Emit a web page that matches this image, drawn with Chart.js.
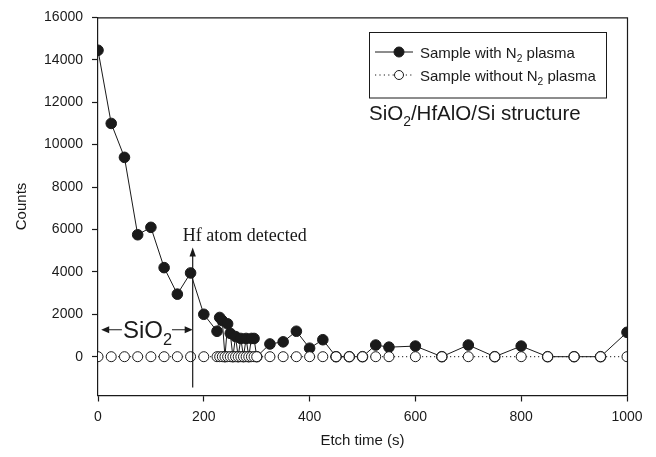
<!DOCTYPE html>
<html>
<head>
<meta charset="utf-8">
<script src="https://cdn.jsdelivr.net/npm/chart.js@4.4.1/dist/chart.umd.min.js"></script>
<style>
  html, body { margin: 0; padding: 0; background: #fff; }
  #wrap { width: 656px; height: 457px; }
</style>
</head>
<body>
<div id="wrap"><canvas id="myChart" width="656" height="457"></canvas></div>
<script>
// Etch time (s), shared by both samples
var etchTime = [0, 25, 50, 75, 100, 125, 150, 175, 200,
  225, 230, 235, 240, 245, 250, 255, 260, 265, 270, 275, 280, 285, 290, 295,
  300, 325, 350, 375, 400, 425, 450, 475, 500, 525, 550,
  600, 650, 700, 750, 800, 850, 900, 950, 1000];

// Counts, sample with N2 plasma
var withCounts = [14450, 11000, 9400, 5750, 6100, 4200, 2950, 3950, 2000,
  1200, 1850, 1700, 0, 1550, 1100, 0, 950, 0, 860, 0, 860, 0, 860, 860,
  0, 600, 700, 1200, 400, 800, 0, 0, 0, 550, 450,
  500, 0, 550, 0, 500, 0, 0, 0, 1150];

// Counts, sample without N2 plasma
var withoutCounts = [0, 0, 0, 0, 0, 0, 0, 0, 0,
  0, 0, 0, 0, 0, 0, 0, 0, 0, 0, 0, 0, 0, 0, 0,
  0, 0, 0, 0, 0, 0, 0, 0, 0, 0, 0,
  0, 0, 0, 0, 0, 0, 0, 0, 0];

// Tick labels
var xTicks = [0, 200, 400, 600, 800, 1000];
var yTicks = [0, 2000, 4000, 6000, 8000, 10000, 12000, 14000, 16000];

// Annotations (data coordinates)
var hfTime = 179;          // "Hf atom detected" arrow
var hfArrowFrom = -1450;
var hfArrowTo = 5150;
var sioLevel = 1270;       // SiO2 double arrow
var sioFrom = 6;

var ink = '#1a1a1a';
var sans = '"Liberation Sans", Arial, Helvetica, sans-serif';
var serif = '"Liberation Serif", "Times New Roman", serif';

function toPoints(xs, ys) {
  return xs.map(function (x, i) { return { x: x, y: ys[i] }; });
}

// Draw text where every second part is a subscript, returns end x
function drawSubText(ctx, parts, x, y, size, measureOnly) {
  for (var i = 0; i < parts.length; i++) {
    var sub = i % 2 === 1;
    ctx.font = (sub ? size * 0.68 : size) + 'px ' + sans;
    if (!measureOnly) ctx.fillText(parts[i], x, y + (sub ? size * 0.3 : 0));
    x += ctx.measureText(parts[i]).width;
  }
  return x;
}

function arrowHead(ctx, tipX, tipY, dx, dy, len, half) {
  ctx.beginPath();
  ctx.moveTo(tipX, tipY);
  ctx.lineTo(tipX - dx * len - dy * half, tipY - dy * len + dx * half);
  ctx.lineTo(tipX - dx * len + dy * half, tipY - dy * len - dx * half);
  ctx.closePath();
  ctx.fill();
}

// Frame, legend box and the text annotations
var extrasPlugin = {
  id: 'extras',
  afterDraw: function (chart) {
    var ctx = chart.ctx;
    var area = chart.chartArea;
    var xs = chart.scales.x;
    var ys = chart.scales.y;
    ctx.save();
    ctx.strokeStyle = ink;
    ctx.fillStyle = ink;

    // top and right border
    ctx.lineWidth = 1.2;
    ctx.beginPath();
    ctx.moveTo(area.left, area.top + 0.5);
    ctx.lineTo(area.right + 0.5, area.top + 0.5);
    ctx.lineTo(area.right + 0.5, area.bottom);
    ctx.stroke();

    // legend box
    ctx.lineWidth = 1;
    ctx.strokeRect(369.5, 32.5, 237, 65.5);
    var rows = [
      { y: 52, parts: ['Sample with N', '2', ' plasma'], filled: true },
      { y: 75, parts: ['Sample without N', '2', ' plasma'], filled: false }
    ];
    rows.forEach(function (r) {
      ctx.beginPath();
      ctx.setLineDash(r.filled ? [] : [1.2, 3.2]);
      ctx.moveTo(375, r.y);
      ctx.lineTo(413, r.y);
      ctx.stroke();
      ctx.setLineDash([]);
      ctx.beginPath();
      ctx.arc(399, r.y, r.filled ? 5 : 4.5, 0, Math.PI * 2);
      ctx.fillStyle = r.filled ? ink : '#fff';
      ctx.fill();
      ctx.stroke();
      ctx.fillStyle = ink;
      ctx.textBaseline = 'alphabetic';
      ctx.textAlign = 'left';
      drawSubText(ctx, r.parts, 420, r.y + 5.5, 15);
    });

    // structure label
    drawSubText(ctx, ['SiO', '2', '/HfAlO/Si structure'], 369, 119.5, 20.5);

    // Hf atom detected arrow
    var hx = xs.getPixelForValue(hfTime);
    var hTop = ys.getPixelForValue(hfArrowTo);
    ctx.lineWidth = 1.2;
    ctx.beginPath();
    ctx.moveTo(hx, ys.getPixelForValue(hfArrowFrom));
    ctx.lineTo(hx, hTop + 6);
    ctx.stroke();
    arrowHead(ctx, hx, hTop, 0, -1, 9, 3.2);
    ctx.font = '18px ' + serif;
    ctx.fillText('Hf atom detected', hx - 10, hTop - 6);

    // SiO2 double arrow
    var sy = ys.getPixelForValue(sioLevel);
    var sl = xs.getPixelForValue(sioFrom);
    var sr = hx;
    var size = 24;
    var tw = drawSubText(ctx, ['SiO', '2'], 0, 0, size, true);
    var mid = (sl + sr) / 2 + 0.5;
    var t0 = mid - tw / 2;
    ctx.lineWidth = 1;
    ctx.beginPath();
    ctx.moveTo(sl + 6, sy);
    ctx.lineTo(t0 - 1, sy);
    ctx.moveTo(t0 + tw, sy);
    ctx.lineTo(sr - 6, sy);
    ctx.stroke();
    arrowHead(ctx, sl, sy, -1, 0, 8, 3.5);
    arrowHead(ctx, sr, sy, 1, 0, 8, 3.5);
    drawSubText(ctx, ['SiO', '2'], t0, sy + 8.5, size);

    ctx.restore();
  }
};

// plain numbers, no thousands separator
function plainLabel(value) {
  return String(value);
}

var ctx = document.getElementById('myChart').getContext('2d');
var myChart = new Chart(ctx, {
  type: 'line',
  data: {
    datasets: [{
      label: 'Sample with N2 plasma',
      data: toPoints(etchTime, withCounts),
      borderColor: ink,
      borderWidth: 1,
      pointRadius: 5.3,
      pointBackgroundColor: ink,
      pointBorderColor: ink,
      pointBorderWidth: 1,
      tension: 0,
      order: 2
    }, {
      label: 'Sample without N2 plasma',
      data: toPoints(etchTime, withoutCounts),
      borderColor: ink,
      borderWidth: 1,
      borderDash: [1.2, 2.8],
      pointRadius: 5,
      pointBackgroundColor: '#fff',
      pointBorderColor: ink,
      pointBorderWidth: 1,
      tension: 0,
      order: 1
    }]
  },
  options: {
    responsive: false,
    animation: false,
    layout: { padding: { top: 14, right: 29, left: 0, bottom: 0 } },
    plugins: {
      legend: { display: false },
      tooltip: { enabled: false }
    },
    scales: {
      x: {
        type: 'linear',
        min: 0,
        max: 1000,
        afterFit: function (s) { s.height = 61.5; },
        afterBuildTicks: function (s) { s.ticks = xTicks.map(function (v) { return { value: v }; }); },
        grid: { drawOnChartArea: false, tickLength: 6, color: ink, tickWidth: 1.2 },
        border: { color: ink, width: 1.2 },
        ticks: { color: ink, padding: 7, maxRotation: 0, font: { family: sans, size: 14 }, callback: plainLabel },
        title: {
          display: true,
          text: 'Etch time (s)',
          color: ink,
          padding: { top: 0, bottom: 7.5 },
          font: { family: sans, size: 15 }
        }
      },
      y: {
        min: -1830,
        max: 16000,
        afterFit: function (s) { s.width = 98; },
        afterBuildTicks: function (s) { s.ticks = yTicks.map(function (v) { return { value: v }; }); },
        grid: { drawOnChartArea: false, tickLength: 6, color: ink, tickWidth: 1.2 },
        border: { color: ink, width: 1.2 },
        ticks: { color: ink, padding: 9, font: { family: sans, size: 14 }, callback: plainLabel },
        title: {
          display: true,
          text: 'Counts',
          color: ink,
          padding: { top: 12.5, bottom: 0 },
          font: { family: sans, size: 15 }
        }
      }
    }
  },
  plugins: [extrasPlugin]
});
</script>
</body>
</html>
